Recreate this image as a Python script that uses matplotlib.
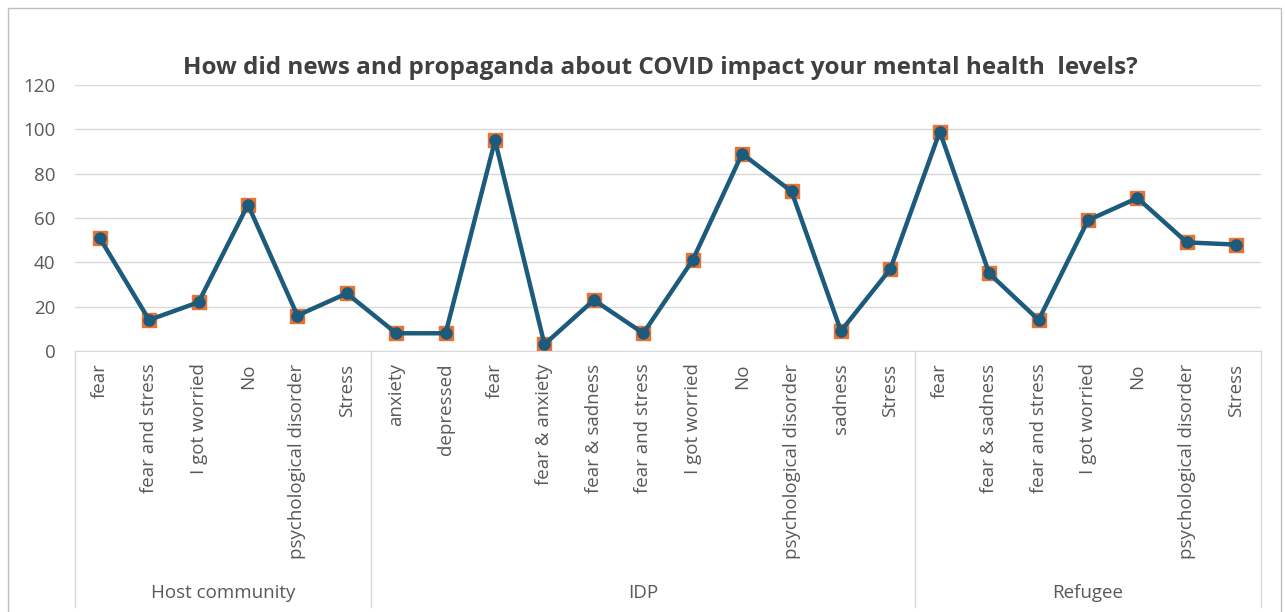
import matplotlib.pyplot as plt
from matplotlib.patches import Rectangle
import matplotlib.transforms as mtransforms

plt.rcParams['font.family'] = ['Open Sans', 'DejaVu Sans']

groups = ['Host community', 'IDP', 'Refugee']
host_labels = ['fear', 'fear and stress', 'I got worried', 'No', 'psychological disorder', 'Stress']
host_values = [51, 14, 22, 66, 16, 26]
idp_labels = ['anxiety', 'depressed', 'fear', 'fear & anxiety', 'fear & sadness', 'fear and stress',
              'I got worried', 'No', 'psychological disorder', 'sadness', 'Stress']
idp_values = [8, 8, 95, 3, 23, 8, 41, 89, 72, 9, 37]
ref_labels = ['fear', 'fear & sadness', 'fear and stress', 'I got worried', 'No', 'psychological disorder', 'Stress']
ref_values = [99, 35, 14, 59, 69, 49, 48]

labels = host_labels + idp_labels + ref_labels
values = host_values + idp_values + ref_values
sizes = [len(host_labels), len(idp_labels), len(ref_labels)]
x = list(range(len(values)))

W, H = 1285, 612
fig = plt.figure(figsize=(W / 100, H / 100), dpi=100)
fig.patches.append(Rectangle((8 / W, -0.1), (W - 12) / W, 1.1 - 8 / H, transform=fig.transFigure,
                             fill=False, edgecolor='#BFBFBF', lw=1))

ax = fig.add_axes([75 / W, 1 - 351 / H, (1261 - 75) / W, (351 - 85) / H])
line_col = '#1C5B7C'
ax.plot(x, values, linestyle='none', marker='s', markersize=10, color='#E97132', zorder=2)
ax.plot(x, values, color=line_col, lw=3.2, marker='o', markersize=8, zorder=3)

ax.set_xlim(-0.5, len(values) - 0.5)
ax.set_ylim(0, 120)
ax.set_yticks(range(0, 121, 20))
ax.grid(axis='y', color='#D9D9D9', lw=1)
ax.set_axisbelow(True)
for s in ['top', 'right', 'left']:
    ax.spines[s].set_visible(False)
ax.spines['bottom'].set_color('#D9D9D9')
ax.tick_params(axis='y', length=0, labelsize=13.5, labelcolor='#595959', pad=14)
ax.set_xticks(x)
ax.set_xticklabels(labels, rotation=90, va='top', ha='center')
ax.tick_params(axis='x', length=0, labelsize=13.5, labelcolor='#595959', pad=9)

trans = mtransforms.blended_transform_factory(ax.transData, ax.transAxes)
bottom = -(607 - 351) / (351 - 85)
edges = [-0.5]
for n in sizes:
    edges.append(edges[-1] + n)
for e in edges:
    ax.plot([e, e], [0, bottom], transform=trans, color='#D9D9D9', lw=1, clip_on=False)
for i, g in enumerate(groups):
    ax.text((edges[i] + edges[i + 1]) / 2, -(593 - 351) / (351 - 85), g, transform=trans,
            ha='center', va='center', fontsize=13.5, color='#595959')

fig.text(660 / W, 1 - 68 / H, 'How did news and propaganda about COVID impact your mental health  levels?',
         ha='center', va='center', fontsize=17.5, fontweight='bold', color='#404040')

fig.savefig('out.png', dpi=100)
